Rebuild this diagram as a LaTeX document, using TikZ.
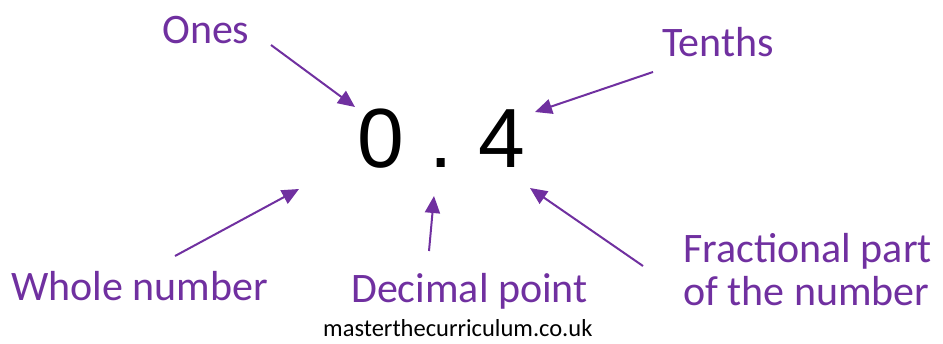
\documentclass[tikz,border=0pt]{standalone}
\usepackage{fontspec}
\setmainfont{Carlito}
\newfontfamily\digitfont{Liberation Sans}
\usetikzlibrary{arrows.meta}
\definecolor{labpurple}{HTML}{7030A0}
\tikzset{
  lab/.style={inner sep=0pt, anchor=base west, text=labpurple, font=\fontsize{42}{43}\selectfont},
  digit/.style={inner sep=0pt, anchor=base, font=\digitfont\fontsize{84}{84}\selectfont},
  pointer/.style={draw=labpurple, line width=2pt, -{Triangle[length=17pt,width=15pt]}},
}
\begin{document}
\begin{tikzpicture}[x=1pt,y=-1pt]
\useasboundingbox (0,0) rectangle (943,343);
\node[digit] (zero) at (381,167) {0};
\node[digit] (dot) at (441,167) {.};
\node[digit] (four) at (502,167) {4};
\node[lab] (ones) at (162,43) {Ones};
\node[lab] (tenths) at (662,56) {Tenths};
\node[lab] (whole) at (11,300) {Whole number};
\node[lab] (decimal) at (351,302) {Decimal point};
\node[lab] (frac) at (683,262) {Fractional part};
\node[lab] (frac2) at (683,305) {of the number};
\node[inner sep=0pt, anchor=base west, font=\fontsize{24.5}{25}\selectfont] (site) at (323,336) {masterthecurriculum.co.uk};
\coordinate (onesS) at (271,45);
\coordinate (onesT) at (355,107);
\coordinate (tenS) at (653,72);
\coordinate (tenT) at (535,112);
\coordinate (wholeS) at (175,256);
\coordinate (wholeT) at (299,189);
\coordinate (decS) at (429,251);
\coordinate (decT) at (434,196);
\coordinate (fracS) at (643,266);
\coordinate (fracT) at (530,188);
\draw[pointer] (onesS) -- (onesT);
\draw[pointer] (tenS) -- (tenT);
\draw[pointer] (wholeS) -- (wholeT);
\draw[pointer] (decS) -- (decT);
\draw[pointer] (fracS) -- (fracT);
\end{tikzpicture}
\end{document}
